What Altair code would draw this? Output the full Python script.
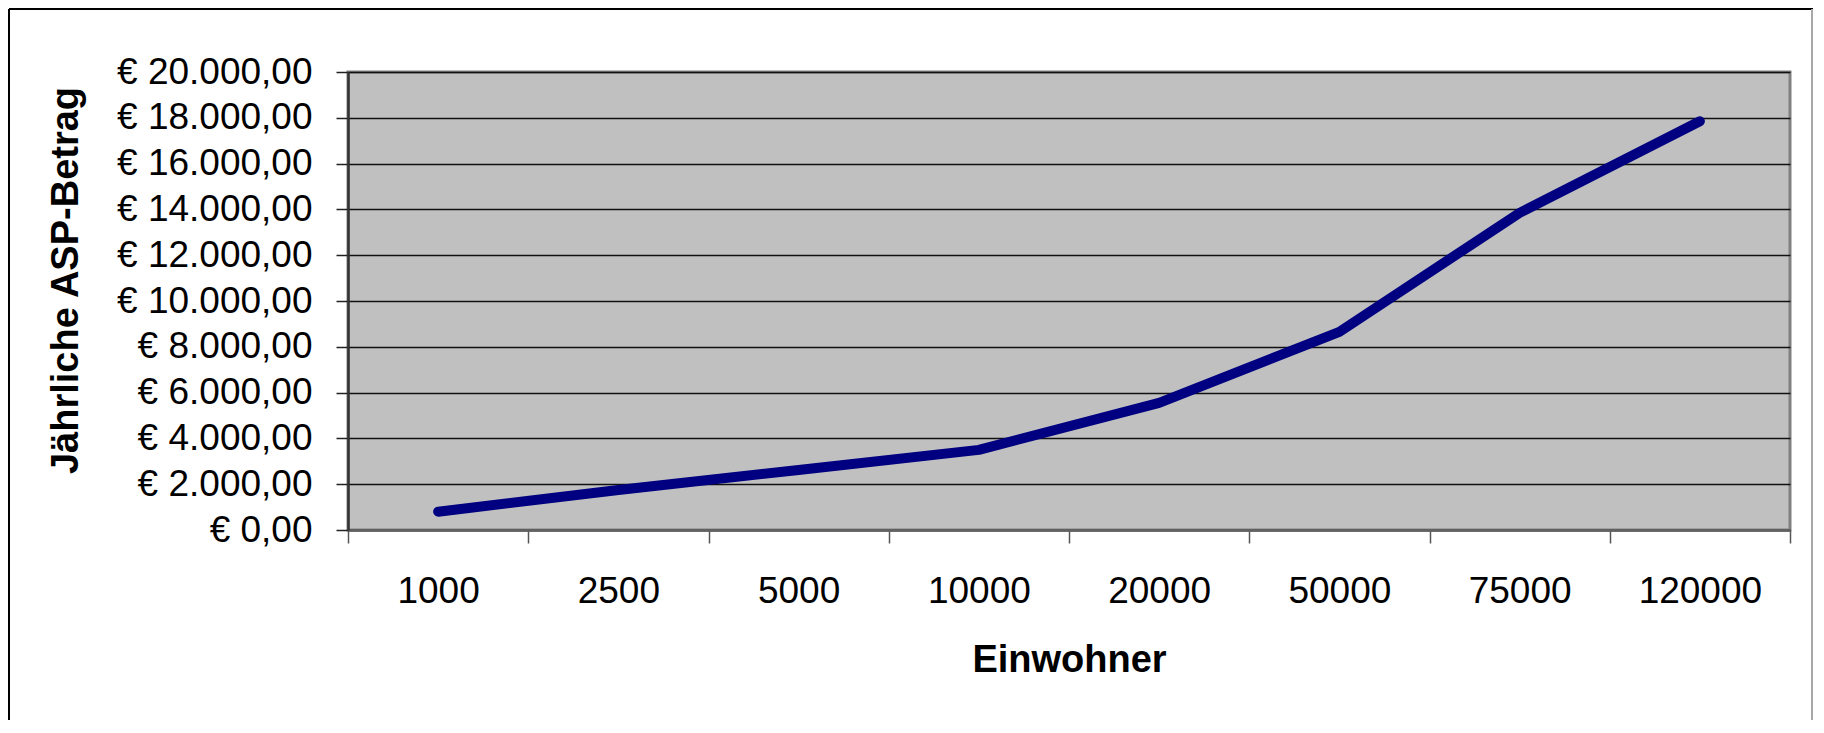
import altair as alt
import pandas as pd

einwohner = ["1000", "2500", "5000", "10000", "20000", "50000", "75000", "120000"]
betrag = [800, 1750, 2620, 3500, 5550, 8650, 13850, 17850]
y_ticks = [0, 2000, 4000, 6000, 8000, 10000, 12000, 14000, 16000, 18000, 20000]

W, H = 1442, 458
FONT = "Liberation Sans"

df = pd.DataFrame({"Einwohner": einwohner, "Betrag": betrag})
dummy = pd.DataFrame({"d": [0]})

line = alt.Chart(df).mark_line(
    color="#000080", strokeWidth=10, strokeCap="round", strokeJoin="round"
).encode(
    x=alt.X(
        "Einwohner:N",
        sort=None,
        bandPosition=0.5,
        scale=alt.Scale(type="band", paddingInner=0, paddingOuter=0),
        axis=alt.Axis(
            title="Einwohner",
            titleFont=FONT, titleFontSize=38, titleFontWeight="bold", titleColor="#000",
            titleBaseline="alphabetic", titleY=141,
            labelFont=FONT, labelFontSize=37, labelColor="#000", labelAngle=0,
            labelBaseline="alphabetic", labelPadding=59, labelLimit=0,
            tickBand="extent", tickSize=13, tickColor="#555", tickWidth=1.5,
            domainColor="#606060", domainWidth=2.5, grid=False,
        ),
    ),
    y=alt.Y(
        "Betrag:Q",
        scale=alt.Scale(domain=[0, 20000], nice=False),
        axis=alt.Axis(
            values=y_ticks,
            title="Jährliche ASP-Betrag",
            titleFont=FONT, titleFontSize=38, titleFontWeight="bold", titleColor="#000",
            titleAngle=270, titleAlign="center", titleBaseline="alphabetic",
            titleX=-271, titleY=208,
            labelExpr="'€ ' + replace(format(datum.value, ',d'), ',', '.') + ',00'",
            labelFont=FONT, labelFontSize=37, labelColor="#000", labelLimit=0,
            labelPadding=24, labelBaseline="middle",
            tickSize=12, tickColor="#222", tickWidth=1.5,
            domainColor="#333", domainWidth=2.5,
            grid=True, gridColor="#111", gridWidth=1.5,
        ),
    ),
)

frame_left = alt.Chart(dummy).mark_rule(color="#000", strokeWidth=2).encode(
    x=alt.value(-339), y=alt.value(-63), y2=alt.value(H + 250)
)
frame_top = alt.Chart(dummy).mark_rule(color="#000", strokeWidth=2).encode(
    x=alt.value(-339), x2=alt.value(W + 23), y=alt.value(-63)
)
frame_right = alt.Chart(dummy).mark_rule(color="#a8a8a8", strokeWidth=2).encode(
    x=alt.value(W + 22), y=alt.value(-63), y2=alt.value(H + 250)
)

chart = alt.layer(line, frame_left, frame_top, frame_right).properties(
    width=W,
    height=H,
    padding={"left": 340, "top": 64, "right": 24, "bottom": 190},
    autosize=alt.AutoSizeParams(type="none"),
    background="white",
).configure_view(
    fill="#C0C0C0", stroke="#808080", strokeWidth=3
)

chart.save("out.html", embed_options={"renderer": "svg", "actions": False})
